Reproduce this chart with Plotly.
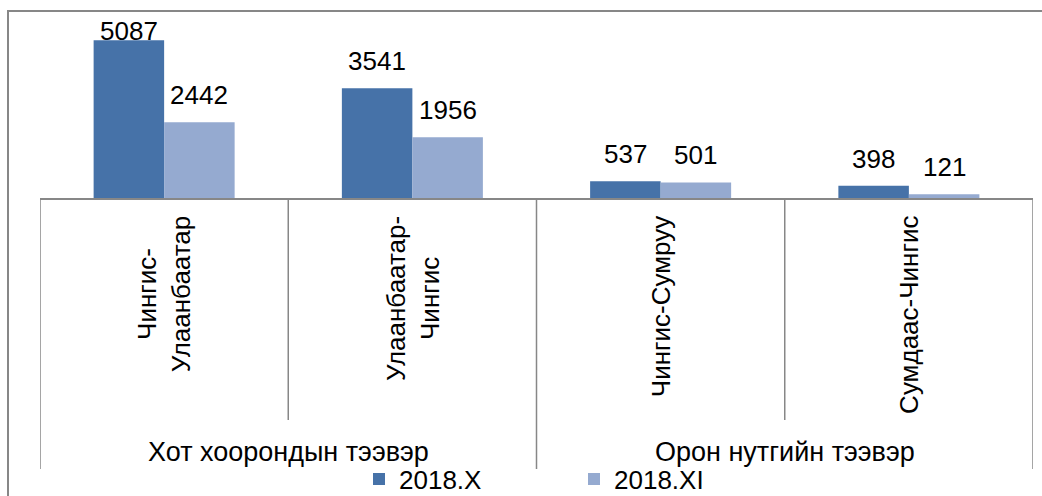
import plotly.graph_objects as go

# ---- data ----
categories = ["Чингис-<br>Улаанбаатар", "Улаанбаатар-<br>Чингис", "Чингис-Сумруу", "Сумдаас-Чингис"]
groups = ["Хот хоорондын тээвэр", "Орон нутгийн тээвэр"]
group_members = [2, 2]
series_names = ["2018.X", "2018.XI"]
values_x = [5087, 3541, 537, 398]
values_xi = [2442, 1956, 501, 121]

# ---- styles ----
FONT = "Liberation Sans, Arial, sans-serif"
FS_LABEL = 26
FS_CAT = 26
FS_GROUP = 27
FS_LEGEND = 26
COLORS = ["#4672A8", "#95AAD0"]
GRAY = "#878787"
W, H = 1042, 496
ML, MR, MT, MB = 40, 9, 12, 298
YMAX = 6000
PW = W - ML - MR
PH = H - MT - MB


def py(pix):
    """pixel row -> paper y"""
    return (H - MB - pix) / PH


def px(pix):
    return (pix - ML) / PW


idx = list(range(len(categories)))

fig = go.Figure()
for name, vals, col in zip(series_names, [values_x, values_xi], COLORS):
    fig.add_trace(go.Bar(
        x=idx, y=vals, name=name,
        marker=dict(color=col, line=dict(width=0)),
        hoverinfo="skip",
    ))

fig.update_layout(
    width=W, height=H,
    margin=dict(l=ML, r=MR, t=MT, b=MB, autoexpand=False),
    paper_bgcolor="white", plot_bgcolor="white",
    barmode="group", bargap=0.432, bargroupgap=0,
    font=dict(family=FONT, size=FS_LABEL, color="black"),
    showlegend=True,
    legend=dict(
        orientation="h", x=px(359), xanchor="left",
        y=py(479), yanchor="middle",
        font=dict(family=FONT, size=FS_LEGEND, color="black"),
        entrywidth=170, entrywidthmode="pixels",
        bgcolor="rgba(0,0,0,0)", itemclick=False, itemdoubleclick=False,
        tracegroupgap=0,
    ),
    xaxis=dict(
        range=[-0.5, len(categories) - 0.5], showticklabels=False,
        showgrid=False, zeroline=False, ticks="",
        showline=True, linecolor=GRAY, linewidth=1.5,
    ),
    yaxis=dict(range=[0, YMAX], visible=False, showgrid=False, zeroline=False),
)

# data labels (outside end, clamped to plot top)
bar_w_units = (1 - 0.432) / 2
offset_px = bar_w_units * PW / len(categories) / 2
label_box_h = 32
for vals, sgn in [(values_x, -1), (values_xi, 1)]:
    for i, v in zip(idx, vals):
        top_px = MT + PH * (1 - v / YMAX)
        shift = 10
        if top_px - shift - label_box_h < MT + 4:
            shift = top_px - (MT + 4) - label_box_h
        fig.add_annotation(
            x=i, y=v, xref="x", yref="y", text=str(v), showarrow=False,
            xanchor="center", yanchor="bottom", xshift=sgn * offset_px, yshift=shift,
            font=dict(family=FONT, size=FS_LABEL, color="black"),
        )

# category labels (rotated)
for i, c in zip(idx, categories):
    fig.add_annotation(
        x=i, y=py(214), xref="x", yref="paper", text=c, showarrow=False,
        textangle=-90, xanchor="center", yanchor="top", align="center",
        font=dict(family=FONT, size=FS_CAT, color="black"),
    )

# group labels and divider lines
start = 0
bounds = [-0.5]
for g, n in zip(groups, group_members):
    center = start + (n - 1) / 2
    fig.add_annotation(
        x=center, y=py(452), xref="x", yref="paper", text=g, showarrow=False,
        xanchor="center", yanchor="middle", borderpad=0,
        font=dict(family=FONT, size=FS_GROUP, color="black"),
    )
    for k in range(1, n):
        fig.add_shape(type="line", xref="x", yref="paper",
                      x0=start + k - 0.5, x1=start + k - 0.5, y0=0, y1=py(420),
                      line=dict(color=GRAY, width=1.5))
    start += n
    bounds.append(start - 0.5)
for b in bounds:
    fig.add_shape(type="line", xref="x", yref="paper",
                  x0=b, x1=b, y0=0, y1=py(469),
                  line=dict(color=GRAY, width=1.5))

# chart area border (extends beyond the visible frame right and bottom)
fig.add_shape(type="rect", xref="paper", yref="paper",
              x0=px(8), x1=px(1060), y0=py(520), y1=py(11),
              line=dict(color=GRAY, width=2), fillcolor="rgba(0,0,0,0)", layer="below")

fig.write_html("out.html",
               config={"displayModeBar": False, "staticPlot": True},
               post_script="document.body.style.margin='0';document.body.style.overflow='hidden';")
